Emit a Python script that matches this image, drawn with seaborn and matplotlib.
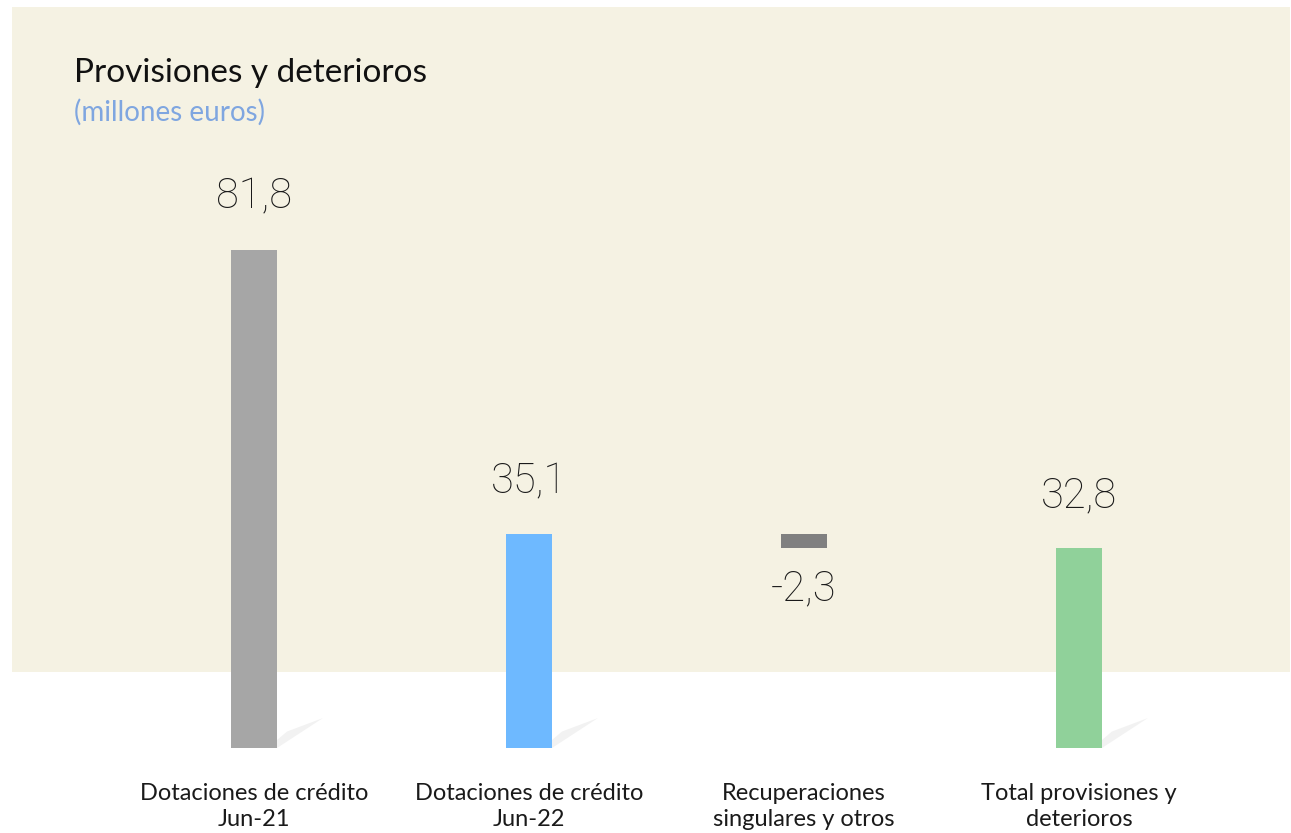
import matplotlib
matplotlib.use('Agg')
import matplotlib.pyplot as plt
import seaborn as sns
from matplotlib.patches import Rectangle, Polygon

# datos
categorias = ['Dotaciones de crédito\nJun-21', 'Dotaciones de crédito\nJun-22',
              'Recuperaciones\nsingulares y otros', 'Total provisiones y\ndeterioros']
valores = [81.8, 35.1, -2.3, 32.8]
bases = [0, 0, 35.1, 0]
etiquetas = ['81,8', '35,1', '-2,3', '32,8']
colores = ['#A6A6A6', '#6EB9FF', '#808080', '#90D19A']

sns.set_theme(style='white')
plt.rcParams['font.family'] = ['Lato', 'DejaVu Sans']

fig = plt.figure(figsize=(12.91, 8.33), dpi=100)
ax = fig.add_axes([0, 0, 1, 1])
ax.set_facecolor('none')

# fondo beige
ax.add_patch(Rectangle((12 / 1291, 161 / 833), 1278 / 1291, 665 / 833,
                       transform=ax.transAxes, facecolor='#F5F2E3',
                       edgecolor='none', zorder=0))

sns.barplot(x=categorias, y=valores, bottom=bases, color='#A6A6A6',
            width=0.167, ax=ax, zorder=3)
for p, c in zip([p for p in ax.patches if p.get_zorder() == 3], colores):
    p.set_facecolor(c)
    p.set_edgecolor('none')

ax.set_xlim(-0.924, 3.771)
ax.set_ylim(-13.96, 122.86)
ax.axis('off')

# sombra suave al pie de cada barra
esc = 1 / 6.088
for i, v in enumerate(valores):
    if bases[i] != 0:
        continue
    x0 = i + 0.0835
    sombra = Polygon([(x0, 0), (x0 + 46 / 275, 30 * esc), (x0 + 10 / 275, 30 * esc * 0.55), (x0, 8 * esc)],
                     closed=True, facecolor='#EFEFEF', edgecolor='none', alpha=0.8, zorder=2)
    ax.add_patch(sombra)

# etiquetas de valor
for i, (v, b, t) in enumerate(zip(valores, bases, etiquetas)):
    extremo = b + v
    desp = 38 if v >= 0 else -29
    ax.annotate(t, (i, extremo), xytext=(0, desp), textcoords='offset points',
                ha='center', va='center', fontsize=30, fontweight='light',
                family=['Roboto', 'DejaVu Sans'], color='#1a1a1a', zorder=5)

# etiquetas de categoría
for i, c in enumerate(categorias):
    ax.text(i, -9.6, c, ha='center', va='center', fontsize=17,
            color='#1a1a1a', linespacing=1.3, zorder=5)

fig.text(74 / 1291, 1 - 73 / 833, 'Provisiones y deterioros', ha='left', va='center',
         fontsize=24, color='#111111')
fig.text(74 / 1291, 1 - 112 / 833, '(millones euros)', ha='left', va='center',
         fontsize=20, color='#7FA6E0')

fig.savefig('out.png', dpi=100)
